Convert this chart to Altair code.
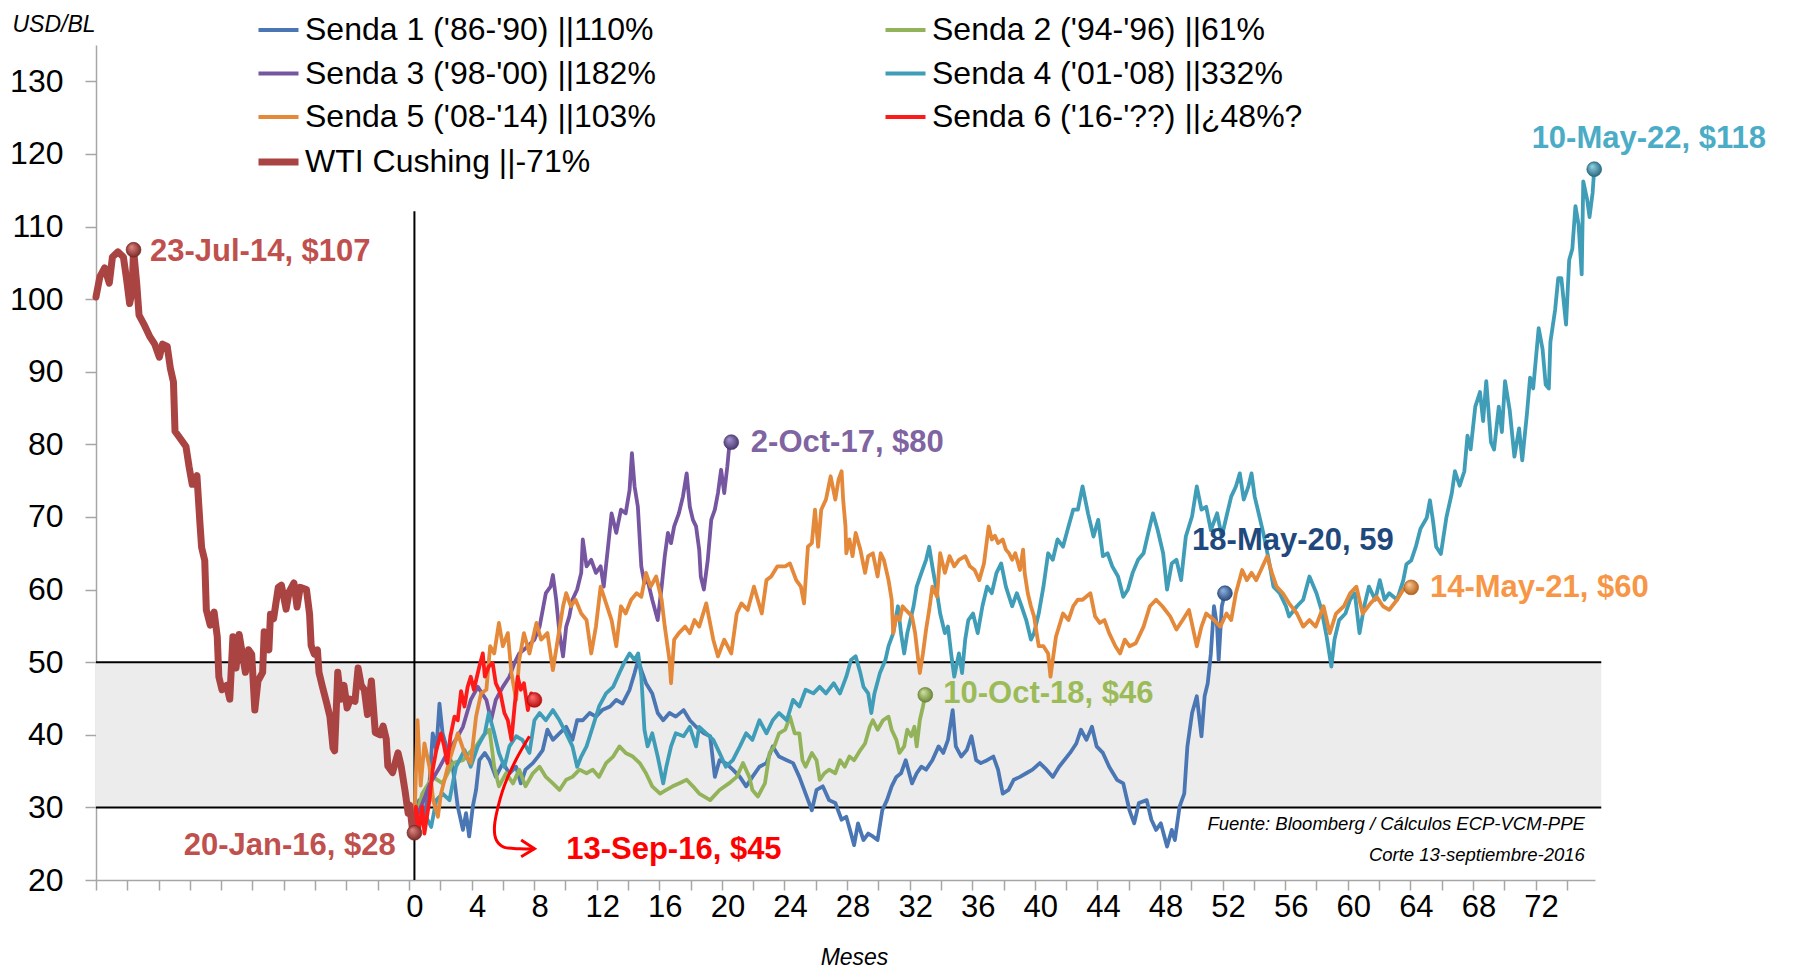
import altair as alt
import pandas as pd

# ---------------- data (months since 20-Jan-2016, USD/BL) ----------------
SERIES = ["Senda 1 ('86-'90) ||110%", "Senda 2 ('94-'96) ||61%",
          "Senda 3 ('98-'00) ||182%", "Senda 4 ('01-'08) ||332%",
          "Senda 5 ('08-'14) ||103%", "Senda 6 ('16-'??) ||¿48%?",
          "WTI Cushing ||-71%"]
COLORS = ["#4A77B4", "#93B35A", "#7656A1", "#3F9DB8", "#E4883A", "#FF1A1A", "#A94442"]
WIDTHS = [3.8, 3.8, 3.8, 3.8, 3.8, 3.8, 7.0]
LEGEND_ORDER = [0, 2, 4, 6, 1, 3, 5]   # legend fills columns first

WTI = [(-20.35, 100.3), (-20.1, 103.1), (-19.8, 104.3), (-19.5, 102.2), (-19.3, 105.8), (-18.95, 106.5),
       (-18.6, 105.8), (-18.4, 102.8), (-18.2, 99.4), (-18.05, 101.0), (-17.95, 106.8), (-17.75, 102.2),
       (-17.6, 97.8), (-17.3, 96.6), (-16.9, 94.8), (-16.6, 93.8), (-16.3, 92.0), (-16.1, 93.8),
       (-15.8, 93.5), (-15.6, 90.5), (-15.4, 88.6), (-15.3, 81.8), (-15.0, 80.9), (-14.6, 79.7),
       (-14.4, 76.9), (-14.2, 74.5), (-13.9, 75.7), (-13.7, 68.9), (-13.6, 65.8), (-13.4, 64.0),
       (-13.3, 57.2), (-13.05, 55.1), (-12.8, 56.9), (-12.6, 53.5), (-12.5, 48.0), (-12.3, 46.2),
       (-12.0, 46.8), (-11.8, 44.9), (-11.6, 53.5), (-11.4, 49.2), (-11.2, 53.8), (-10.8, 48.6),
       (-10.6, 51.7), (-10.4, 51.1), (-10.2, 43.4), (-10.0, 47.4), (-9.7, 48.6), (-9.6, 54.2),
       (-9.3, 51.7), (-9.2, 56.6), (-9.0, 56.0), (-8.7, 60.3), (-8.5, 60.6), (-8.2, 57.3),
       (-8.0, 59.7), (-7.7, 60.9), (-7.5, 57.6), (-7.3, 60.3), (-6.9, 60.0), (-6.7, 56.6),
       (-6.6, 52.3), (-6.4, 51.1), (-6.2, 51.7), (-6.1, 48.6), (-5.9, 46.8), (-5.6, 44.3),
       (-5.4, 42.5), (-5.2, 38.2), (-5.1, 37.8), (-4.9, 48.6), (-4.7, 44.9), (-4.5, 46.8),
       (-4.3, 43.7), (-4.1, 44.9), (-3.8, 44.6), (-3.6, 49.2), (-3.4, 46.8), (-3.2, 46.2),
       (-3.0, 42.8), (-2.75, 47.4), (-2.5, 40.3), (-2.2, 40.0), (-2.0, 41.2), (-1.8, 39.4),
       (-1.7, 35.7), (-1.4, 34.8), (-1.05, 37.5), (-0.85, 35.7), (-0.6, 32.3), (-0.4, 29.2),
       (-0.3, 30.3), (-0.1, 26.5), (0.0, 26.5)]

S6 = [(0.0, 26.5), (0.1, 30.1), (0.3, 26.9), (0.5, 30.1), (0.64, 26.4), (0.96, 31.0), (1.17, 35.2),
      (1.4, 37.9), (1.7, 40.2), (1.9, 38.4), (2.1, 36.1), (2.3, 39.8), (2.56, 42.5), (2.77, 42.0),
      (2.98, 46.0), (3.2, 43.9), (3.4, 46.6), (3.6, 48.0), (3.8, 46.2), (4.15, 49.4), (4.37, 51.2),
      (4.5, 48.0), (4.75, 49.4), (5.0, 49.9), (5.2, 47.1), (5.5, 45.7), (5.75, 43.0), (5.97, 42.0),
      (6.2, 39.3), (6.4, 43.9), (6.6, 48.0), (6.8, 46.2), (7.0, 47.1), (7.25, 43.4), (7.46, 45.7),
      (7.67, 44.8)]

S3 = [(0.0, 28.0), (0.5, 30.5), (1.0, 33.3), (1.6, 35.5), (2.2, 37.9), (2.7, 39.5), (3.1, 41.1),
      (3.6, 44.8), (4.05, 46.6), (4.6, 44.8), (4.9, 42.0), (5.2, 44.8), (5.65, 46.6), (6.07, 48.0),
      (6.4, 49.9), (6.7, 51.2), (7.25, 52.2), (7.67, 53.1), (8.0, 54.9), (8.4, 59.5), (8.7, 60.4),
      (8.85, 62.0), (9.06, 58.6), (9.27, 54.0), (9.5, 50.8), (9.7, 54.9), (9.9, 56.3), (10.1, 58.6),
      (10.4, 60.0), (10.66, 62.3), (10.76, 66.9), (11.0, 63.2), (11.3, 64.1), (11.6, 62.3),
      (11.9, 63.2), (12.1, 60.4), (12.4, 66.4), (12.6, 70.5), (12.9, 67.8), (13.2, 71.0),
      (13.5, 70.5), (13.75, 73.7), (13.9, 78.8), (14.07, 74.2), (14.28, 71.4), (14.5, 63.2),
      (14.7, 60.9), (14.9, 61.3), (15.2, 58.6), (15.55, 55.8), (15.8, 60.4), (16.0, 64.6),
      (16.2, 67.8), (16.4, 66.4), (16.6, 68.7), (16.9, 70.5), (17.16, 72.8), (17.4, 76.0),
      (17.6, 71.4), (17.8, 69.6), (18.0, 68.7), (18.2, 65.5), (18.3, 61.8), (18.5, 60.0),
      (18.75, 64.1), (18.97, 69.6), (19.2, 71.0), (19.4, 73.3), (19.6, 76.5), (19.8, 73.3),
      (20.0, 77.0), (20.1, 79.3), (20.25, 80.3)]

S5 = [(0.0, 28.0), (0.2, 42.0), (0.4, 33.0), (0.64, 38.8), (0.96, 35.6), (1.2, 31.0), (1.5, 28.7),
      (1.7, 31.9), (2.24, 36.5), (2.77, 40.2), (3.2, 37.5), (3.6, 36.1), (3.94, 42.5), (4.26, 45.7),
      (4.6, 46.2), (4.84, 52.2), (5.1, 51.2), (5.4, 55.4), (5.65, 52.2), (5.97, 54.0), (6.2, 48.5),
      (6.5, 44.8), (6.7, 50.3), (7.0, 54.0), (7.35, 51.2), (7.8, 55.4), (8.1, 53.1), (8.5, 54.0),
      (8.85, 48.9), (9.16, 53.1), (9.5, 57.7), (9.7, 59.5), (10.0, 57.7), (10.3, 58.6),
      (10.66, 56.7), (11.0, 55.8), (11.3, 51.2), (11.6, 54.9), (11.9, 60.4), (12.25, 58.1),
      (12.6, 55.8), (12.9, 52.2), (13.2, 57.7), (13.5, 56.7), (13.85, 58.6), (14.2, 59.5),
      (14.5, 59.0), (14.8, 62.3), (15.1, 60.4), (15.45, 61.8), (15.8, 58.6), (16.0, 54.9),
      (16.3, 50.3), (16.4, 47.1), (16.6, 53.1), (16.9, 54.0), (17.3, 54.9), (17.6, 54.0),
      (17.9, 55.8), (18.2, 54.9), (18.65, 58.1), (19.1, 53.1), (19.4, 50.8), (19.8, 53.1),
      (20.25, 51.2), (20.6, 56.7), (20.9, 58.1), (21.3, 57.2), (21.7, 60.4), (22.2, 56.7),
      (22.5, 61.3), (22.8, 61.8), (23.2, 63.2), (23.7, 63.2), (24.0, 63.6), (24.4, 61.3),
      (24.7, 60.4), (24.9, 58.1), (25.15, 65.9), (25.4, 66.4), (25.6, 71.0), (25.8, 65.9),
      (26.0, 71.0), (26.3, 72.4), (26.6, 75.6), (26.9, 72.4), (27.1, 75.1), (27.3, 76.3),
      (27.4, 72.4), (27.55, 68.7), (27.6, 65.0), (27.8, 66.9), (28.0, 64.6), (28.2, 67.8),
      (28.5, 65.5), (28.8, 62.3), (29.0, 64.6), (29.3, 65.0), (29.6, 61.8), (29.8, 65.0),
      (30.0, 64.1), (30.3, 61.3), (30.5, 58.6), (30.6, 54.0), (30.8, 56.3), (31.0, 55.8),
      (31.2, 57.7), (31.4, 57.2), (31.8, 56.3), (32.0, 54.0), (32.2, 50.3), (32.3, 48.5),
      (32.5, 51.2), (32.7, 54.5), (32.9, 57.2), (33.1, 60.4), (33.4, 59.0), (33.6, 65.0),
      (33.9, 62.3), (34.2, 64.6), (34.5, 63.2), (34.8, 64.1), (35.2, 64.6), (35.5, 63.2),
      (35.8, 62.7), (36.1, 61.3), (36.4, 63.6), (36.7, 68.7), (36.9, 66.9), (37.1, 67.4),
      (37.3, 66.4), (37.6, 66.9), (37.8, 65.5), (38.0, 65.0), (38.2, 64.1), (38.4, 65.0),
      (38.7, 62.7), (38.9, 65.5), (39.0, 62.3), (39.2, 59.5), (39.4, 57.7), (39.6, 56.3),
      (39.9, 52.2), (40.2, 52.2), (40.5, 51.2), (40.65, 48.0), (41.0, 53.5), (41.45, 56.7),
      (41.8, 55.8), (42.1, 57.7), (42.4, 58.6), (42.7, 58.6), (43.2, 59.5), (43.5, 56.3),
      (43.8, 55.4), (44.1, 55.8), (44.4, 54.0), (44.8, 52.2), (45.1, 51.2), (45.4, 53.1),
      (45.7, 52.2), (46.1, 52.6), (46.6, 54.9), (47.0, 57.7), (47.4, 58.6), (47.8, 57.7),
      (48.3, 56.3), (48.7, 54.5), (49.1, 55.8), (49.5, 57.2), (50.0, 52.2), (50.3, 54.9),
      (50.6, 56.7), (51.1, 55.8), (51.5, 54.9), (51.9, 56.7), (52.2, 55.8), (52.5, 59.5),
      (52.9, 62.7), (53.2, 61.3), (53.5, 62.3), (53.8, 61.3), (54.1, 62.7), (54.5, 64.6),
      (54.8, 62.3), (55.1, 60.4), (55.5, 59.5), (55.9, 58.1), (56.4, 56.7), (56.8, 54.9),
      (57.2, 55.8), (57.6, 54.9), (58.1, 57.7), (58.5, 54.0), (58.9, 56.7), (59.4, 57.7),
      (59.8, 59.5), (60.2, 60.4), (60.6, 56.7), (61.1, 58.1), (61.5, 59.0), (61.9, 57.7),
      (62.3, 57.2), (62.8, 58.6), (63.2, 60.0), (63.7, 60.3)]

S4 = [(0.0, 28.0), (0.3, 27.8), (0.75, 28.7), (1.07, 27.3), (1.4, 31.0), (1.8, 31.9), (2.24, 31.0),
      (2.66, 35.6), (3.2, 37.9), (3.6, 35.6), (4.05, 38.4), (4.5, 40.2), (4.75, 43.0), (5.1, 40.2),
      (5.4, 37.5), (5.75, 35.6), (6.07, 38.4), (6.5, 39.8), (6.9, 39.3), (7.35, 37.5), (7.67, 42.0),
      (8.0, 43.0), (8.4, 42.0), (8.85, 43.4), (9.27, 42.0), (9.7, 40.2), (10.1, 38.4), (10.4, 35.6),
      (10.66, 37.0), (11.0, 38.4), (11.4, 41.1), (11.8, 43.9), (12.25, 45.7), (12.7, 46.6),
      (13.1, 48.5), (13.4, 49.9), (13.75, 51.2), (14.07, 50.3), (14.3, 51.2), (14.5, 48.0),
      (14.7, 40.7), (14.9, 38.4), (15.2, 40.2), (15.55, 37.0), (15.9, 33.3), (16.1, 35.6),
      (16.4, 38.4), (16.7, 40.2), (17.2, 39.8), (17.6, 41.1), (18.0, 38.4), (18.2, 41.1),
      (18.65, 40.2), (19.1, 39.3), (19.5, 37.5), (19.9, 35.6), (20.35, 36.5), (20.8, 38.4),
      (21.2, 40.2), (21.6, 39.3), (22.05, 42.0), (22.5, 40.2), (22.9, 42.0), (23.3, 43.0),
      (23.8, 42.0), (24.2, 44.8), (24.6, 43.9), (25.0, 46.2), (25.5, 45.7), (25.9, 46.6),
      (26.3, 45.7), (26.8, 47.1), (27.2, 45.7), (27.6, 48.0), (27.9, 50.3), (28.2, 50.8),
      (28.5, 48.5), (28.7, 46.6), (29.0, 45.7), (29.2, 43.0), (29.4, 45.7), (29.75, 48.5),
      (30.1, 50.3), (30.3, 52.2), (30.6, 54.0), (30.9, 57.7), (31.1, 54.0), (31.3, 51.2),
      (31.5, 54.0), (31.9, 57.7), (32.1, 60.4), (32.4, 62.3), (32.7, 64.1), (32.9, 65.9),
      (33.1, 63.2), (33.4, 59.5), (33.6, 56.7), (33.9, 54.0), (34.1, 54.9), (34.3, 51.2),
      (34.5, 48.0), (34.8, 51.2), (35.0, 48.5), (35.2, 53.1), (35.4, 55.8), (35.7, 56.7),
      (36.0, 54.0), (36.3, 57.7), (36.6, 60.4), (36.9, 59.5), (37.2, 62.3), (37.5, 63.6),
      (37.8, 60.4), (38.2, 57.7), (38.5, 59.5), (38.8, 57.7), (39.1, 55.8), (39.4, 53.1),
      (39.6, 54.0), (39.9, 56.7), (40.2, 60.4), (40.5, 65.0), (40.8, 64.1), (41.1, 66.9),
      (41.45, 65.9), (41.8, 68.7), (42.1, 71.0), (42.4, 71.0), (42.7, 74.2), (43.05, 70.5),
      (43.4, 67.3), (43.7, 69.6), (44.0, 64.6), (44.3, 65.0), (44.6, 63.2), (44.97, 61.8),
      (45.3, 59.0), (45.6, 60.0), (45.9, 62.3), (46.25, 64.1), (46.6, 65.0), (46.9, 67.8),
      (47.2, 70.5), (47.5, 68.2), (47.85, 65.0), (48.1, 60.0), (48.4, 63.6), (48.7, 64.1),
      (49.0, 61.3), (49.3, 67.3), (49.7, 70.1), (50.0, 74.2), (50.3, 71.0), (50.6, 71.4),
      (50.9, 68.2), (51.3, 70.5), (51.6, 67.3), (51.9, 70.1), (52.2, 72.8), (52.5, 74.2),
      (52.75, 76.0), (53.0, 72.4), (53.3, 74.2), (53.5, 76.0), (53.7, 72.8), (53.9, 71.0),
      (54.25, 67.8), (54.6, 64.1), (54.9, 60.4), (55.3, 59.5), (55.7, 57.7), (55.9, 56.3),
      (56.4, 57.7), (56.8, 58.6), (57.2, 61.8), (57.65, 59.5), (57.97, 57.2), (58.3, 53.5),
      (58.6, 49.4), (58.8, 53.1), (59.1, 55.8), (59.5, 56.7), (59.8, 58.6), (60.1, 59.5),
      (60.4, 54.0), (60.7, 57.7), (61.0, 60.4), (61.4, 58.6), (61.7, 61.3), (62.0, 58.6),
      (62.3, 59.5), (62.8, 58.6), (63.2, 61.3), (63.4, 63.5), (63.7, 64.0), (64.0, 65.9),
      (64.3, 68.4), (64.7, 69.9), (64.9, 72.3), (65.1, 69.4), (65.3, 65.9), (65.6, 64.9),
      (65.95, 69.9), (66.3, 73.3), (66.5, 76.3), (66.8, 74.3), (67.1, 76.3), (67.3, 81.2),
      (67.5, 79.3), (67.8, 85.2), (68.1, 87.2), (68.3, 83.2), (68.5, 88.7), (68.8, 80.3),
      (69.0, 79.3), (69.3, 85.2), (69.5, 81.7), (69.7, 88.7), (70.0, 84.7), (70.3, 78.3),
      (70.6, 82.2), (70.8, 77.8), (71.1, 84.2), (71.3, 89.2), (71.5, 87.7), (71.85, 96.0),
      (72.1, 93.1), (72.3, 88.2), (72.5, 87.7), (72.6, 94.1), (72.9, 98.5), (73.1, 102.9),
      (73.3, 102.9), (73.6, 96.5), (73.8, 105.4), (74.0, 106.9), (74.2, 112.8), (74.4, 110.3),
      (74.6, 103.4), (74.7, 116.2), (74.95, 113.7), (75.1, 111.3), (75.3, 114.7), (75.4, 117.9)]

S1 = [(0.0, 28.0), (0.3, 31.0), (0.64, 28.7), (0.96, 33.3), (1.17, 40.2), (1.4, 37.9), (1.6, 44.3),
      (1.8, 40.2), (2.1, 37.9), (2.45, 35.6), (2.77, 30.1), (3.1, 26.9), (3.3, 29.2), (3.5, 26.0),
      (3.73, 30.1), (3.94, 32.4), (4.15, 36.5), (4.5, 37.5), (4.8, 36.5), (5.2, 34.2), (5.65, 36.1),
      (6.07, 34.7), (6.5, 35.6), (6.8, 33.3), (7.1, 35.2), (7.57, 36.1), (7.9, 37.0), (8.2, 37.9),
      (8.5, 40.7), (8.85, 39.3), (9.27, 40.2), (9.7, 41.1), (10.1, 39.3), (10.4, 42.0),
      (10.76, 42.0), (11.2, 43.0), (11.6, 42.5), (12.0, 43.4), (12.5, 43.9), (12.9, 44.8),
      (13.3, 44.3), (13.75, 46.2), (14.07, 48.5), (14.3, 50.3), (14.5, 48.9), (14.8, 47.1),
      (15.2, 45.7), (15.55, 43.0), (15.9, 42.0), (16.3, 43.0), (16.7, 42.5), (17.2, 43.4),
      (17.6, 42.0), (18.0, 41.1), (18.5, 40.2), (18.9, 39.8), (19.2, 34.2), (19.5, 36.5),
      (19.9, 36.1), (20.35, 35.2), (20.8, 34.2), (21.2, 32.9), (21.6, 34.2), (22.05, 35.6),
      (22.5, 36.1), (22.9, 38.4), (23.3, 37.0), (23.8, 36.5), (24.2, 36.1), (24.6, 34.2),
      (25.0, 31.9), (25.4, 29.6), (25.7, 32.4), (26.1, 32.9), (26.5, 31.0), (26.9, 30.6),
      (27.3, 28.3), (27.6, 28.7), (27.9, 26.4), (28.1, 24.8), (28.35, 27.8), (28.7, 25.5),
      (29.0, 26.4), (29.3, 26.0), (29.6, 25.5), (29.9, 29.6), (30.2, 31.0), (30.5, 32.9),
      (30.8, 34.2), (31.1, 34.7), (31.4, 36.5), (31.8, 33.3), (32.1, 34.7), (32.4, 35.6),
      (32.7, 35.2), (33.1, 36.5), (33.5, 38.4), (33.8, 37.5), (34.1, 39.3), (34.4, 43.4),
      (34.6, 38.4), (34.95, 37.0), (35.3, 37.9), (35.6, 39.8), (35.9, 36.5), (36.2, 36.1),
      (36.6, 36.5), (37.0, 37.0), (37.3, 35.2), (37.6, 31.9), (37.97, 32.4), (38.3, 33.8),
      (38.7, 34.2), (39.1, 34.7), (39.5, 35.2), (39.97, 36.1), (40.4, 35.2), (40.8, 34.2),
      (41.2, 35.6), (41.9, 37.5), (42.3, 38.8), (42.6, 40.7), (42.95, 39.3), (43.3, 41.1),
      (43.6, 38.4), (44.0, 37.5), (44.4, 35.6), (44.9, 33.8), (45.3, 33.3), (45.7, 29.6),
      (46.0, 27.8), (46.3, 30.6), (46.8, 31.0), (47.1, 28.3), (47.4, 26.9), (47.7, 27.8),
      (48.1, 24.6), (48.4, 26.9), (48.6, 25.5), (48.9, 30.1), (49.2, 31.9), (49.4, 38.4),
      (49.7, 43.0), (50.0, 45.3), (50.3, 39.8), (50.5, 45.3), (50.7, 47.1), (50.9, 51.2),
      (51.1, 57.7), (51.3, 54.9), (51.4, 50.3), (51.6, 57.7), (51.8, 59.5)]

S2 = [(0.0, 28.0), (0.5, 31.9), (1.17, 34.2), (1.8, 33.3), (2.45, 36.1), (3.1, 36.5), (3.5, 37.5),
      (3.94, 38.4), (4.37, 39.8), (4.8, 40.7), (5.1, 35.6), (5.4, 32.9), (5.86, 34.7), (6.3, 33.3),
      (6.7, 35.2), (7.1, 32.9), (7.57, 34.7), (8.0, 35.6), (8.4, 34.2), (8.85, 33.3), (9.27, 32.4),
      (9.7, 33.8), (10.1, 34.2), (10.55, 35.2), (11.0, 34.7), (11.4, 35.2), (11.8, 34.2),
      (12.25, 36.1), (12.7, 37.0), (13.1, 38.4), (13.5, 37.5), (13.96, 37.0), (14.4, 36.1),
      (14.8, 34.7), (15.2, 32.9), (15.7, 31.9), (16.1, 32.4), (16.5, 32.9), (16.9, 33.3),
      (17.4, 33.8), (17.8, 32.9), (18.2, 31.9), (18.9, 31.0), (19.5, 32.4), (20.1, 33.3),
      (20.6, 34.2), (21.0, 36.1), (21.4, 34.2), (21.6, 32.4), (21.95, 31.5), (22.4, 33.3),
      (22.7, 37.5), (23.0, 38.4), (23.3, 40.2), (23.7, 40.7), (24.0, 42.5), (24.3, 40.2),
      (24.6, 40.2), (24.8, 36.5), (25.0, 35.6), (25.4, 37.5), (25.7, 36.5), (25.9, 33.8),
      (26.2, 34.7), (26.5, 35.2), (26.9, 34.7), (27.2, 36.5), (27.5, 35.6), (27.8, 37.0),
      (28.1, 36.5), (28.5, 37.9), (28.8, 38.8), (29.1, 41.1), (29.3, 42.0), (29.6, 40.7),
      (29.95, 42.0), (30.3, 42.5), (30.5, 40.7), (30.8, 39.3), (31.0, 37.5), (31.3, 38.4),
      (31.5, 40.7), (31.75, 39.8), (31.95, 41.1), (32.1, 38.4), (32.3, 42.0), (32.5, 43.9),
      (32.65, 45.5)]

POINTS = [S1, S2, S3, S4, S5, S6, WTI]

# end-point markers: (month, value, dark, light)
DOTS = [(-17.95, 106.8, "#6E1F1C", "#E08580"), (0.0, 26.5, "#6E1F1C", "#E08580"),
        (7.67, 44.8, "#B00000", "#FF7070"), (20.25, 80.3, "#3E2E63", "#A591D0"),
        (32.65, 45.5, "#5E7A2A", "#D0E2A0"), (51.8, 59.5, "#1F3F6E", "#8DB3E4"),
        (63.7, 60.3, "#A85510", "#FFC98F"), (75.4, 117.9, "#1D5E72", "#92D4E6")]

LABELS = [("23-Jul-14, $107", -16.9, 106.5, "#C0504D", "left"),
          ("20-Jan-16, $28", -1.2, 24.7, "#C0504D", "right"),
          ("13-Sep-16, $45", 9.7, 24.2, "#FF0000", "left"),
          ("2-Oct-17, $80", 21.5, 80.2, "#8064A2", "left"),
          ("10-Oct-18, $46", 33.8, 45.6, "#9BBB59", "left"),
          ("18-May-20, 59", 49.7, 66.7, "#1F497D", "left"),
          ("14-May-21, $60", 64.9, 60.2, "#F79646", "left"),
          ("10-May-22, $118", 71.4, 122.0, "#4BACC6", "left")]

ARROW_CURVE = [(7.35, 39.8), (6.5, 36.6), (5.75, 33.0), (5.26, 29.3), (5.11, 27.0),
               (5.26, 25.4), (5.75, 24.5), (6.71, 24.3), (7.67, 24.3)]
ARROW_HEAD = [(6.82, 25.5), (7.67, 24.3), (6.82, 23.2)]

BAND = [(-20.35, 75.85, 30, 50)]
VLINE = [(0.0, 20.0, 112.1)]
X_LABELS = list(range(0, 73, 4))
Y_TICKS = list(range(20, 131, 10))
SOURCE = [("Fuente: Bloomberg / Cálculos ECP-VCM-PPE", 74.8, 27.7),
          ("Corte 13-septiembre-2016", 74.8, 23.4)]

# ---------------- chart ----------------
FONT = "Liberation Sans, Arial, sans-serif"
XD = [-20.35, 75.45]
YD = [20, 135]
XS = alt.Scale(domain=XD, nice=False, zero=False)
YS = alt.Scale(domain=YD, nice=False, zero=False)
GREY = "#A6A6A6"

rows = []
for name, pts in zip(SERIES, POINTS):
    for i, (m, v) in enumerate(pts):
        rows.append({"series": name, "m": m, "v": v, "i": i})
df = pd.DataFrame(rows)

xticks = [XD[0] + 2 * k for k in range(48)]
label_expr = ("(round(datum.value + 0.35) >= 0 && round(datum.value + 0.35) % 4 == 0) "
              "? format(round(datum.value + 0.35), 'd') : ''")

X_AXIS = alt.Axis(
    values=xticks, labelExpr=label_expr, labelOffset=5.5, labelOverlap=False,
    labelFlush=False, tickSize=10, tickColor=GREY, tickWidth=1.5, domainColor=GREY,
    domainWidth=1.5, labelFont=FONT, labelFontSize=31, labelColor="black",
    labelPadding=2, grid=False, title="Meses", titleFont=FONT, titleFontSize=23,
    titleFontStyle="italic", titleFontWeight="normal", titleColor="black",
    titleX=758, titleY=77, titleBaseline="middle", titleAlign="center")
Y_AXIS = alt.Axis(
    values=Y_TICKS, tickSize=11, tickColor=GREY, tickWidth=1.5, domainColor=GREY,
    domainWidth=1.5, labelFont=FONT, labelFontSize=32, labelColor="black",
    labelPadding=22, grid=False, title="USD/BL", titleFont=FONT, titleFontSize=23,
    titleFontStyle="italic", titleFontWeight="normal", titleColor="black",
    titleAngle=0, titleX=-84, titleY=-21, titleAlign="left", titleBaseline="middle")


def X(f):
    return alt.X(f, scale=XS, axis=X_AXIS)


def Y(f):
    return alt.Y(f, scale=YS, axis=Y_AXIS)


band_df = pd.DataFrame(BAND, columns=["x0", "x1", "y0", "y1"])
band = alt.Chart(band_df).mark_rect(color="#ECECEC").encode(
    x=X("x0:Q"), x2="x1:Q", y=Y("y0:Q"), y2="y1:Q")

hrules = alt.Chart(pd.DataFrame({"x0": [BAND[0][0]] * 2, "x1": [BAND[0][1]] * 2,
                                 "y": [BAND[0][2], BAND[0][3]]})).mark_rule(
    color="black", strokeWidth=2).encode(x=X("x0:Q"), x2="x1:Q", y=Y("y:Q"))

vrule = alt.Chart(pd.DataFrame(VLINE, columns=["x", "y0", "y1"])).mark_rule(
    color="black", strokeWidth=2).encode(x=X("x:Q"), y=Y("y0:Q"), y2="y1:Q")

dom = [SERIES[k] for k in LEGEND_ORDER]
color_scale = alt.Scale(domain=dom, range=[COLORS[k] for k in LEGEND_ORDER])
width_scale = alt.Scale(type="ordinal", domain=dom, range=[WIDTHS[k] for k in LEGEND_ORDER])
legend = alt.Legend(orient="none", legendX=159, legendY=-37, columns=2, title=None,
                    symbolType="stroke", symbolSize=1600, labelFont=FONT, labelFontSize=32,
                    labelColor="black", labelLimit=700, rowPadding=5.5, columnPadding=221,
                    labelOffset=3, padding=0)

line_layers = []
for k, name in enumerate(SERIES):
    lg = legend if k == 0 else None
    line_layers.append(
        alt.Chart(df[df.series == name]).mark_line(strokeCap="round", strokeJoin="round").encode(
            x=X("m:Q"), y=Y("v:Q"),
            color=alt.Color("series:N", scale=color_scale, legend=lg),
            strokeWidth=alt.StrokeWidth("series:N", scale=width_scale, legend=lg),
            order="i:Q",
        )
    )

arrow_df = pd.DataFrame([{"m": m, "v": v, "i": i} for i, (m, v) in enumerate(ARROW_CURVE)])
arrow = alt.Chart(arrow_df).mark_line(color="#FF0000", strokeWidth=3, interpolate="cardinal").encode(
    x=X("m:Q"), y=Y("v:Q"), order="i:Q")
head_df = pd.DataFrame([{"m": m, "v": v, "i": i} for i, (m, v) in enumerate(ARROW_HEAD)])
head = alt.Chart(head_df).mark_line(color="#FF0000", strokeWidth=3).encode(
    x=X("m:Q"), y=Y("v:Q"), order="i:Q")

dot_layers = []
for (m, v, dark, light) in DOTS:
    grad = alt.RadialGradient(gradient="radial",
                              stops=[alt.GradientStop(color=light, offset=0),
                                     alt.GradientStop(color=dark, offset=1)],
                              x1=0.35, y1=0.3, r1=0.02, x2=0.5, y2=0.5, r2=0.6)
    dot_layers.append(
        alt.Chart(pd.DataFrame({"m": [m], "v": [v]})).mark_circle(
            size=220, opacity=1, fill=grad, stroke=dark, strokeWidth=0.6).encode(
            x=X("m:Q"), y=Y("v:Q"))
    )

lab_df = pd.DataFrame(LABELS, columns=["t", "m", "v", "c", "a"])
lab_layers = []
for al in ["left", "right"]:
    lab_layers.append(
        alt.Chart(lab_df[lab_df.a == al]).mark_text(
            font=FONT, fontSize=31, fontWeight="bold", align=al, baseline="middle").encode(
            x=X("m:Q"), y=Y("v:Q"), text="t:N", fill=alt.Fill("c:N", scale=None))
    )

src = alt.Chart(pd.DataFrame(SOURCE, columns=["t", "m", "v"])).mark_text(
    font=FONT, fontSize=18.5, fontStyle="italic", align="right", baseline="middle",
    color="black").encode(x=X("m:Q"), y=Y("v:Q"), text="t:N")

chart = alt.layer(band, hrules, vrule, *line_layers, arrow, head, *dot_layers, *lab_layers, src)
chart = chart.properties(
    width=1499, height=835,
    padding={"left": 88, "top": 37, "right": 194, "bottom": 92},
    autosize=alt.AutoSizeParams(type="none"),
    background="white",
).configure_view(stroke=None)

chart.save("out.html", embed_options={"renderer": "svg", "actions": False})
